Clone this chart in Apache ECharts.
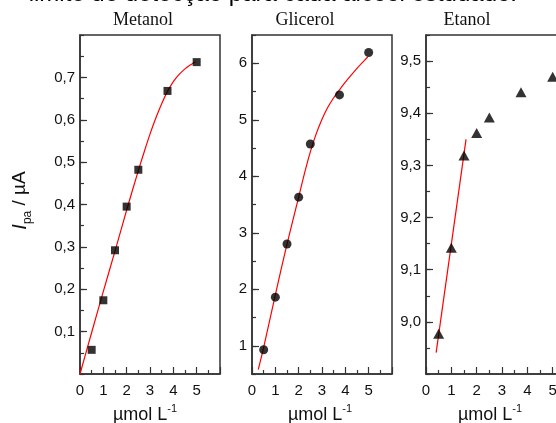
<!DOCTYPE html>
<html>
<head>
<meta charset="utf-8">
<script src="https://cdn.jsdelivr.net/npm/echarts@6/dist/echarts.min.js"></script>
<style>
html, body { margin: 0; padding: 0; background: #fff; }
#chart { width: 556px; height: 423px; }
</style>
</head>
<body>
<div id="chart"></div>
<script>
(function() {

    // concentração (µmol L-1)
    let conc = [0.5, 1, 1.5, 2, 2.5, 3.75, 5];

    // Ipa (µA)
    let metanol = [0.057, 0.174, 0.292, 0.395, 0.482, 0.668, 0.736];
    let glicerol = [0.93, 1.86, 2.80, 3.63, 4.57, 5.44, 6.19];
    let etanol = [8.977, 9.142, 9.319, 9.362, 9.392, 9.440, 9.470];

    // curvas de ajuste (pontos lidos sobre a linha vermelha)
    let metanolFitX = [0, 0.5, 1, 1.5, 2, 2.5, 2.75, 3, 3.25, 3.5, 3.75, 4, 4.25, 4.5, 4.75, 4.95];
    let metanolFitY = [0, 0.098, 0.195, 0.29, 0.387, 0.48, 0.524, 0.566, 0.604, 0.638, 0.667, 0.69, 0.707, 0.72, 0.73, 0.737];
    let glicerolFitX = [0.27, 0.5, 1, 1.5, 2, 2.25, 2.5, 2.75, 3, 3.25, 3.5, 3.75, 4, 4.25, 4.5, 4.75, 4.96];
    let glicerolFitY = [0.58, 0.97, 1.9, 2.8, 3.63, 4.05, 4.43, 4.75, 5.01, 5.22, 5.39, 5.53, 5.665, 5.79, 5.91, 6.02, 6.11];
    let etanolFitX = [0.4, 1.58];
    let etanolFitY = [8.941, 9.35];

    // marcas dos eixos
    let xLabels = [0, 1, 2, 3, 4, 5];
    let metanolYTicks = [0.1, 0.2, 0.3, 0.4, 0.5, 0.6, 0.7];
    let glicerolYTicks = [1, 2, 3, 4, 5, 6];
    let etanolYTicks = [9.0, 9.1, 9.2, 9.3, 9.4, 9.5];

    let titles = ['Metanol', 'Glicerol', 'Etanol'];

    const AX = '#333';
    const FONT = 'Liberation Sans, Arial, sans-serif';

    let chartDom = document.getElementById('chart');
    let myChart = echarts.init(chartDom, null, { renderer: 'canvas' });

    function pairs(xs, ys) {
        return xs.map((x, i) => [x, ys[i]]);
    }

    function comma(v, dec) {
        return v.toFixed(dec).replace('.', ',');
    }

    let grids = [
        { left: 80, top: 35, width: 140, height: 339 },
        { left: 252, top: 35, width: 140, height: 339 },
        { left: 426, top: 35, width: 152, height: 339 }
    ].map(g => Object.assign(g, {
        show: true, borderColor: AX, borderWidth: 1.5,
        containLabel: false, outerBoundsMode: 'none'
    }));

    let namePad = [10, 4, 24];

    let xAxes = [0, 1, 2].map(i => ({
        type: 'value', gridIndex: i, min: 0, max: 6, interval: 1,
        axisLine: { show: true, onZero: false, lineStyle: { color: AX, width: 1.5 } },
        axisTick: { show: true, inside: true, length: 7, lineStyle: { color: AX, width: 1.2 } },
        minorTick: { show: true, splitNumber: 2, length: 4, lineStyle: { color: AX, width: 1.2 } },
        splitLine: { show: false },
        axisLabel: {
            color: '#111', fontSize: 15, fontFamily: FONT, margin: 9,
            formatter: v => xLabels.indexOf(v) >= 0 ? String(v) : ''
        },
        name: '{a|\u00b5mol L}{s|-1}',
        nameLocation: 'middle',
        nameGap: 29,
        nameTextStyle: {
            padding: [0, namePad[i], 0, 0],
            rich: {
                a: { fontSize: 18, fontFamily: FONT, color: '#111', lineHeight: 24 },
                s: { fontSize: 11, fontFamily: FONT, color: '#111', verticalAlign: 'top', lineHeight: 12 }
            }
        }
    }));

    // cada painel: um eixo com marcas menores e outro com as marcas maiores e rótulos
    function yPair(gi, min, max, minorStep, ticks, dec, extra) {
        let minorAxis = {
            type: 'value', gridIndex: gi, min, max, interval: minorStep, position: 'left',
            axisLine: { show: true, onZero: false, lineStyle: { color: AX, width: 1.5 } },
            axisTick: { show: true, inside: true, length: 4, lineStyle: { color: AX, width: 1.2 } },
            axisLabel: { show: false },
            splitLine: { show: false }
        };
        let majorAxis = Object.assign({
            type: 'value', gridIndex: gi, min, max, position: 'left', offset: 0,
            axisLine: { show: false },
            axisTick: { show: true, inside: true, length: 7, customValues: ticks, lineStyle: { color: AX, width: 1.2 } },
            axisLabel: {
                customValues: ticks, color: '#111', fontSize: 15, fontFamily: FONT, margin: 5,
                formatter: v => comma(v, dec)
            },
            splitLine: { show: false }
        }, extra || {});
        return [minorAxis, majorAxis];
    }

    let yAxes = [].concat(
        yPair(0, 0, 0.8, 0.05, metanolYTicks, 1, {
            name: '{i|I}{s|pa}{a| / \u00b5A}',
            nameLocation: 'middle',
            nameRotate: 90,
            nameGap: 46,
            nameTextStyle: {
                padding: [0, 0, 0, 8],
                rich: {
                    i: { fontSize: 20, fontStyle: 'italic', fontFamily: FONT, color: '#111', lineHeight: 28 },
                    s: { fontSize: 12, fontFamily: FONT, color: '#111', verticalAlign: 'bottom', lineHeight: 12 },
                    a: { fontSize: 19, fontFamily: FONT, color: '#111', lineHeight: 28 }
                }
            }
        }),
        yPair(1, 0.5, 6.5, 0.5, glicerolYTicks, 0),
        yPair(2, 8.9, 9.55, 0.05, etanolYTicks, 1)
    );

    let allY = [metanol, glicerol, etanol];
    let fits = [pairs(metanolFitX, metanolFitY), pairs(glicerolFitX, glicerolFitY), pairs(etanolFitX, etanolFitY)];
    let symbols = ['rect', 'circle', 'triangle'];
    let sizes = [8, 9, [11, 10]];

    let series = [];
    for (let i = 0; i < 3; i++) {
        series.push({
            type: 'line', xAxisIndex: i, yAxisIndex: i * 2,
            data: fits[i], smooth: 0.3, showSymbol: false, silent: true, z: 2,
            lineStyle: { color: '#ff0000', width: 1.2 }
        });
        series.push({
            type: 'scatter', xAxisIndex: i, yAxisIndex: i * 2,
            data: pairs(conc, allY[i]), symbol: symbols[i], symbolSize: sizes[i], z: 3,
            itemStyle: { color: '#000' }
        });
    }

    let titlePos = [143, 305, 467];
    let graphic = titles.map((t, i) => ({
        type: 'text', x: titlePos[i], y: 20,
        style: {
            text: t, fill: '#111', font: '18px "Liberation Serif", "Times New Roman", serif',
            align: 'center', verticalAlign: 'middle'
        }
    }));
    // linha de texto do documento, cortada no topo
    graphic.push({
        type: 'text', x: 517, y: 6,
        style: {
            text: 'limite de detec\u00e7\u00e3o para cada \u00e1lcool estudado.',
            fill: '#000', font: '24px "Liberation Sans", Arial, sans-serif',
            align: 'right', verticalAlign: 'bottom'
        }
    });

    let option = {
        backgroundColor: '#fff',
        animation: false,
        grid: grids,
        xAxis: xAxes,
        yAxis: yAxes,
        series: series,
        graphic: graphic
    };

    option && myChart.setOption(option);
}())
</script>
</body>
</html>
